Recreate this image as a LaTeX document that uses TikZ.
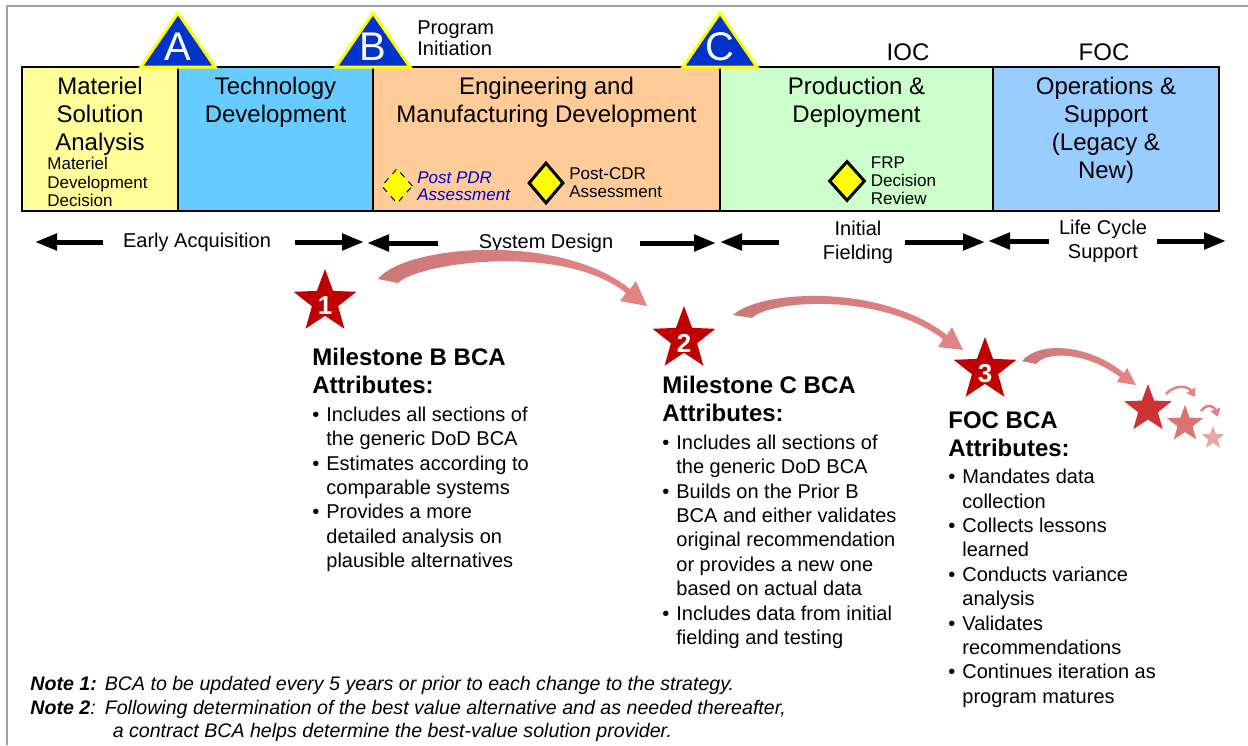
\documentclass[tikz,border=0pt]{standalone}
\usepackage{fontspec}
\setmainfont{Liberation Sans}
\usetikzlibrary{positioning,shapes.geometric,arrows.meta}

\definecolor{msafill}{RGB}{255,255,153}
\definecolor{tdfill}{RGB}{102,204,255}
\definecolor{emdfill}{RGB}{255,204,153}
\definecolor{pdfill}{RGB}{204,255,204}
\definecolor{osfill}{RGB}{153,204,255}
\definecolor{msblue}{RGB}{0,51,204}
\definecolor{msyellow}{RGB}{255,255,0}
\definecolor{starred}{RGB}{192,0,0}
\definecolor{swooshdark}{RGB}{204,120,120}
\definecolor{swooshlight}{RGB}{228,132,132}
\definecolor{pdrblue}{RGB}{0,0,204}
\definecolor{framegray}{RGB}{160,160,160}

\newcommand{\bitem}{\makebox[7pt][l]{\textbullet}}
\newcommand{\bcont}{\hspace*{7pt}}

\tikzset{
  phasebox/.style={draw=black, line width=1pt, rectangle, minimum height=72pt, inner sep=0pt, outer sep=0pt},
  phasetitle/.style={font=\fontsize{12}{14}\selectfont, align=center, inner sep=0pt},
  mstri/.style={fill=msblue, draw=msyellow, line width=1.5pt, line join=miter},
  mslabel/.style={text=white, font=\fontsize{20}{20}\selectfont, inner sep=0pt},
  smalltext/.style={font=\fontsize{8.5}{9}\selectfont, align=left, inner sep=0pt},
  reviewdiamond/.style={diamond, fill=msyellow, draw=black, inner sep=0pt},
  rowlabel/.style={font=\fontsize{10}{12}\selectfont, align=center, inner sep=0pt},
  rowarrow/.style={line width=2.5pt, -{Triangle[length=11pt,width=8pt]}},
  bcastar/.style={star, star points=5, star point ratio=2.4, fill=starred, draw=none, inner sep=0pt, minimum size=33pt},
  starnum/.style={text=white, font=\bfseries\fontsize{13}{13}\selectfont, inner sep=0pt},
  swoosh/.style={left color=swooshdark, right color=swooshlight},
  tinyswoosh/.style={draw=swooshlight, line width=1.3pt, -{Triangle[length=4pt,width=5pt]}},
  bcahead/.style={font=\bfseries\fontsize{12}{14}\selectfont, align=left, inner sep=0pt, anchor=north west},
  bcalist/.style={font=\fontsize{10}{12.2}\selectfont, align=left, inner sep=0pt},
}

\begin{document}
\begin{tikzpicture}[x=0.5pt, y=-0.5pt]
  \useasboundingbox (0,0) rectangle (1248,745);
  \draw[framegray, line width=1pt] (7,745) -- (7,6) -- (1248,6);

  % phases
  \node[phasebox, fill=msafill, minimum width=78pt, anchor=north west] (msa) at (22,67) {};
  \node[phasebox, fill=tdfill, minimum width=97.5pt, right=0pt of msa] (td) {};
  \node[phasebox, fill=emdfill, minimum width=173.5pt, right=0pt of td] (emd) {};
  \node[phasebox, fill=pdfill, minimum width=136.5pt, right=0pt of emd] (pd) {};
  \node[phasebox, fill=osfill, minimum width=113pt, right=0pt of pd] (os) {};

  \node[phasetitle, below=5pt of msa.north] {Materiel\\Solution\\Analysis};
  \node[phasetitle, below=5pt of td.north] {Technology\\Development};
  \node[phasetitle, below=5pt of emd.north] {Engineering and\\Manufacturing Development};
  \node[phasetitle, below=5pt of pd.north] {Production \&\\Deployment};
  \node[phasetitle, below=5pt of os.north] {Operations \&\\Support\\(Legacy \&\\New)};

  \node[smalltext, font=\fontsize{8.5}{9.3}\selectfont, anchor=north west] (mdd) at (47,157) {Materiel\\Development\\Decision};

  % milestones
  \foreach \x/\ms in {178/A,373/B,720/C}{
    \filldraw[mstri] (\x-37,67) -- (\x,13) -- (\x+37,67) -- cycle;
    \node[mslabel] (ms\ms) at (\x,47) {\ms};
  }
  \node[smalltext, font=\fontsize{10}{10.5}\selectfont, anchor=north west] (pi) at (417,20) {Program\\Initiation};
  \node[phasetitle] (ioc) at (908,52) {IOC};
  \node[phasetitle] (foc) at (1104,52) {FOC};

  % reviews
  \node[reviewdiamond, dashed, line width=0.5pt, minimum width=15.5pt, minimum height=17.5pt] (pdr) at (397,186) {};
  \node[smalltext, text=pdrblue, font=\itshape\fontsize{8.5}{8.5}\selectfont, right=2pt of pdr] {Post PDR\\Assessment};
  \node[reviewdiamond, line width=1.5pt, minimum width=17.5pt, minimum height=20.5pt] (cdr) at (546,183) {};
  \node[smalltext, right=2pt of cdr] {Post-CDR\\Assessment};
  \node[reviewdiamond, line width=1.5pt, minimum width=18pt, minimum height=20pt] (frp) at (847,181) {};
  \node[smalltext, right=2pt of frp] {FRP\\Decision\\Review};

  % lifecycle row
  \node[rowlabel] (early) at (197,242) {Early Acquisition};
  \node[rowlabel] (sysdes) at (546,243) {System Design};
  \node[rowlabel] (initfield) at (858,242) {Initial\\Fielding};
  \node[rowlabel] (lcsupport) at (1103,241) {Life Cycle\\Support};
  \coordinate (e0) at (35,242);
  \coordinate (e1) at (364,242);
  \coordinate (s0) at (367,243);
  \coordinate (s1) at (716,243);
  \coordinate (f0) at (720,242);
  \coordinate (f1) at (985,242);
  \coordinate (l0) at (988,241);
  \coordinate (l1) at (1226,241);
  \draw[rowarrow, shorten <=10pt] (early.west) -- (e0);
  \draw[rowarrow, shorten <=12pt] (early.east) -- (e1);
  \draw[rowarrow, shorten <=20pt] (sysdes.west) -- (s0);
  \draw[rowarrow, shorten <=13pt] (sysdes.east) -- (s1);
  \draw[rowarrow, shorten <=22pt] (initfield.west) -- (f0);
  \draw[rowarrow, shorten <=6pt] (initfield.east) -- (f1);
  \draw[rowarrow, shorten <=5pt] (lcsupport.west) -- (l0);
  \draw[rowarrow, shorten <=5pt] (lcsupport.east) -- (l1);

  % BCA stars
  \node[bcastar] (star1) at (325,302) {};
  \node[starnum] at (325,306) {1};
  \node[bcastar] (star2) at (684,339) {};
  \node[starnum] at (684,343) {2};
  \node[bcastar] (star3) at (985,370) {};
  \node[starnum] at (985,374) {3};
  \node[bcastar, fill=starred!80!white, minimum size=25pt] (stara) at (1148,409) {};
  \node[bcastar, fill=starred!55!white, minimum size=19pt] (starb) at (1185,424) {};
  \node[bcastar, fill=starred!35!white, minimum size=12pt] (starc) at (1213,438) {};

  \shade[swoosh] (378,279) .. controls (405,245) and (560,232) .. (630,289) -- (636,281) -- (647,306) -- (620,301) -- (626,293) .. controls (564,243) and (420,262) .. (398,283) -- cycle;
  \shade[swoosh] (733,315) .. controls (760,290) and (880,283) .. (947,335) -- (952,327) -- (963,350) -- (938,347) -- (943,339) .. controls (880,292) and (770,300) .. (752,318) -- cycle;
  \shade[swoosh] (1022,361) .. controls (1040,340) and (1090,345) .. (1124,373) -- (1127,368) -- (1136,385) -- (1117,382) -- (1120,377) .. controls (1088,353) and (1048,350) .. (1036,364) -- cycle;
  \draw[tinyswoosh] (1166,394) .. controls (1175,384) and (1188,386) .. (1195,397);
  \draw[tinyswoosh] (1201,411) .. controls (1207,403) and (1214,406) .. (1218,417);

  % BCA attributes
  \node[bcahead] (headb) at (312,348) {Milestone B BCA\\Attributes:};
  \node[bcalist, below right=6pt and 0pt of headb.south west] (listb) {\bitem Includes all sections of\\\bcont the generic DoD BCA\\\bitem Estimates according to\\\bcont comparable systems\\\bitem Provides a more\\\bcont detailed analysis on\\\bcont plausible alternatives};
  \node[bcahead] (headc) at (662,376) {Milestone C BCA\\Attributes:};
  \node[bcalist, below right=6pt and 0pt of headc.south west] (listc) {\bitem Includes all sections of\\\bcont the generic DoD BCA\\\bitem Builds on the Prior B\\\bcont BCA and either validates\\\bcont original recommendation\\\bcont or provides a new one\\\bcont based on actual data\\\bitem Includes data from initial\\\bcont fielding and testing};
  \node[bcahead] (headf) at (948,411) {FOC BCA\\Attributes:};
  \node[bcalist, below right=6pt and 0pt of headf.south west] (listf) {\bitem Mandates data\\\bcont collection\\\bitem Collects lessons\\\bcont learned\\\bitem Conducts variance\\\bcont analysis\\\bitem Validates\\\bcont recommendations\\\bitem Continues iteration as\\\bcont program matures};

  % notes
  \node[inner sep=0pt, anchor=north west, font=\itshape\fontsize{9.8}{11.75}\selectfont] (notes) at (30,674) {%
    \begin{tabular}{@{}l@{\hspace{4pt}}l@{}}
      \textbf{Note 1:} & BCA to be updated every 5 years or prior to each change to the strategy.\\
      \textbf{Note 2}: & Following determination of the best value alternative and as needed thereafter,\\
       & \hspace*{4pt}a contract BCA helps determine the best-value solution provider.
    \end{tabular}};
\end{tikzpicture}
\end{document}
